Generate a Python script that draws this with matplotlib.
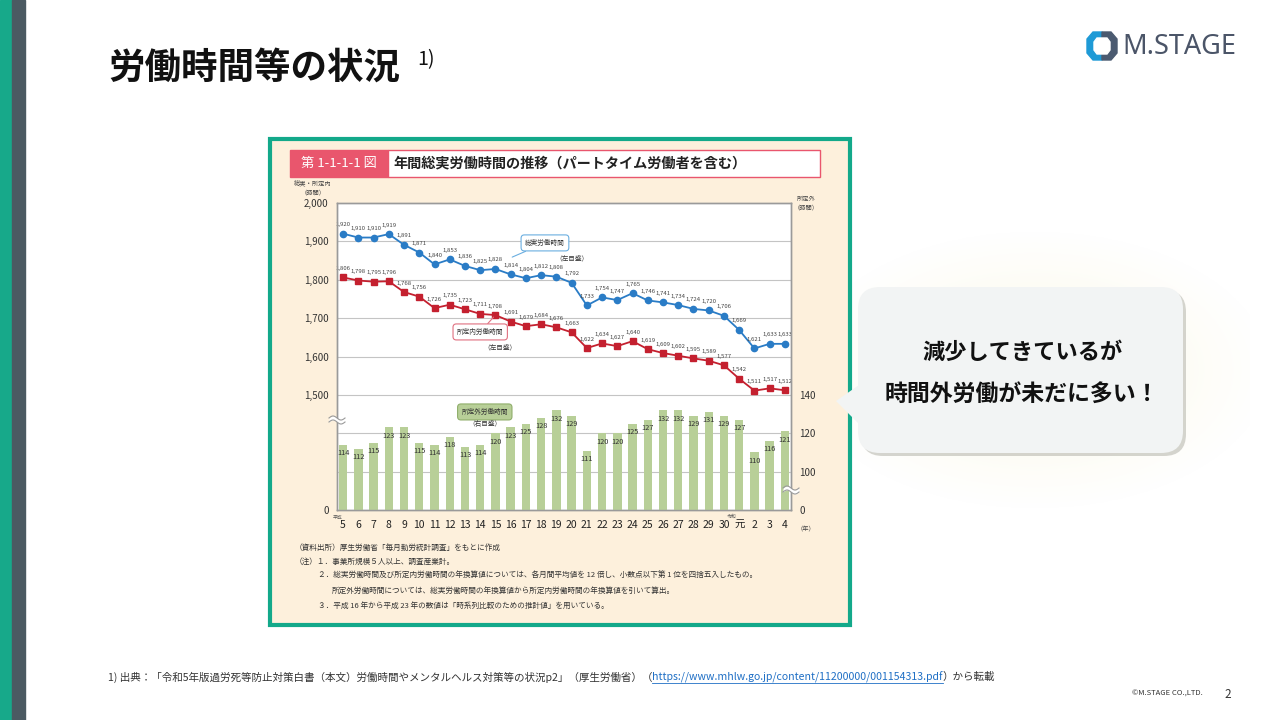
import numpy as np
import matplotlib
matplotlib.use('Agg')
import matplotlib.pyplot as plt
from matplotlib.patches import Rectangle, FancyBboxPatch, Polygon

plt.rcParams['font.family'] = ['Noto Sans CJK JP', 'DejaVu Sans']

# ---- data ----
years = ['5', '6', '7', '8', '9', '10', '11', '12', '13', '14', '15', '16', '17',
         '18', '19', '20', '21', '22', '23', '24', '25', '26', '27', '28', '29',
         '30', '元', '2', '3', '4']
total_hours = [1920, 1910, 1910, 1919, 1891, 1871, 1840, 1853, 1836, 1825, 1828,
               1814, 1804, 1812, 1808, 1792, 1733, 1754, 1747, 1765, 1746, 1741,
               1734, 1724, 1720, 1706, 1669, 1621, 1633, 1633]
scheduled_hours = [1806, 1798, 1795, 1796, 1768, 1756, 1726, 1735, 1723, 1711, 1708,
                   1691, 1679, 1684, 1676, 1663, 1622, 1634, 1627, 1640, 1619, 1609,
                   1602, 1595, 1589, 1577, 1542, 1511, 1517, 1512]
overtime_hours = [114, 112, 115, 123, 123, 115, 114, 118, 113, 114, 120, 123, 125,
                  128, 132, 129, 111, 120, 120, 125, 127, 132, 132, 129, 131, 129,
                  127, 110, 116, 121]
left_ticks = [1200, 1500, 1600, 1700, 1800, 1900, 2000]
left_labels = ['0', '1,500', '1,600', '1,700', '1,800', '1,900', '2,000']
right_ticks = [80, 100, 120, 140]
right_labels = ['0', '100', '120', '140']

BLUE = '#2a7cc6'
RED = '#c4202f'
BAR = '#b8cf98'
GRID = '#c4c4c4'

fig = plt.figure(figsize=(12.8, 7.2), dpi=100)

# background layer in pixel coordinates
bg = fig.add_axes([0, 0, 1, 1], zorder=0)
bg.set_xlim(0, 1280)
bg.set_ylim(720, 0)
bg.axis('off')

bg.add_patch(Rectangle((0, 0), 12, 720, color='#17a98a'))
bg.add_patch(Rectangle((12, 0), 13, 720, color='#4b5a62'))

bg.text(108, 68, '労働時間等の状況', fontsize=26.3, fontweight='bold', va='center', color='#111')
bg.text(417, 60, '1)', fontsize=14, va='center', color='#111')

# logo
bg.add_patch(Polygon([(1102, 32), (1093, 32), (1087, 39), (1087, 53), (1093, 60), (1102, 60)],
                     closed=True, color='#1e9ad6'))
bg.add_patch(Polygon([(1102, 32), (1111, 32), (1117, 39), (1117, 53), (1111, 60), (1102, 60)],
                     closed=True, color='#4b5a70'))
bg.add_patch(Polygon([(1097, 38), (1107, 38), (1110, 42), (1110, 50), (1107, 54), (1097, 54),
                      (1094, 50), (1094, 42)], closed=True, color='white'))
bg.text(1122, 46.5, 'M.STAGE', fontsize=19.5, fontweight='bold', color='#4b5568',
        va='center', family=['Noto Sans', 'DejaVu Sans'])

# chart picture frame
bg.add_patch(Rectangle((270, 139), 580, 486, facecolor='#fdf0dc', edgecolor='#13a98a', lw=3))
bg.add_patch(Rectangle((290, 150), 98, 27, facecolor='#e9566d', edgecolor='#e9566d', lw=1))
bg.add_patch(Rectangle((388, 150), 432, 27, facecolor='white', edgecolor='#e9566d', lw=1))
bg.text(339, 163.5, '第 1-1-1-1 図', color='white', fontsize=9.5, ha='center', va='center')
bg.text(393, 163.5, '年間総実労働時間の推移（パートタイム労働者を含む）', fontsize=10.2,
        fontweight='bold', va='center', color='#222')

bg.text(313, 188, '総実・所定内\n（時間）', fontsize=4.5, ha='center', va='center',
        color='#444', linespacing=1.2)
bg.text(806, 203, '所定外\n（時間）', fontsize=4.5, ha='center', va='center',
        color='#444', linespacing=1.2)
bg.text(338, 517, '平成', fontsize=3.5, ha='center', va='center', color='#555')
bg.text(732, 516, '令和', fontsize=3.5, ha='center', va='center', color='#555')
bg.text(806, 529, '（年）', fontsize=4.5, ha='center', va='center', color='#444')

notes = [
    (295, 548, '（資料出所）厚生労働省「毎月勤労統計調査」をもとに作成'),
    (295, 562, '（注）１．事業所規模５人以上、調査産業計。'),
    (318, 576, '２．総実労働時間及び所定内労働時間の年換算値については、各月間平均値を 12 倍し、小数点以下第 1 位を四捨五入したもの。'),
    (332, 591, '所定外労働時間については、総実労働時間の年換算値から所定内労働時間の年換算値を引いて算出。'),
    (318, 606, '３．平成 16 年から平成 23 年の数値は「時系列比較のための推計値」を用いている。'),
]
for nx, ny, nt in notes:
    bg.text(nx, ny, nt, fontsize=5.5, va='center', color='#333')

# glow behind the speech bubble
gy, gx = np.mgrid[-1:1:200j, -1:1:300j]
glow = np.clip(1.1 - np.sqrt(gx ** 2 + (gy * 1.1) ** 2), 0, 1)
rgba = np.zeros((200, 300, 4))
rgba[..., 0] = 0.98
rgba[..., 1] = 0.96
rgba[..., 2] = 0.84
rgba[..., 3] = glow * 0.55
bg.imshow(rgba, extent=[820, 1250, 510, 230], aspect='auto', zorder=0.5)
bg.set_xlim(0, 1280)
bg.set_ylim(720, 0)

# footer
r = fig.canvas.get_renderer()
t1 = bg.text(108, 677, '1) 出典：「令和5年版過労死等防止対策白書（本文）労働時間やメンタルヘルス対策等の状況p2」（厚生労働省）（',
             fontsize=7.6, va='center', color='#333')
x1 = t1.get_window_extent(renderer=r).x1
t2 = bg.text(x1, 677, 'https://www.mhlw.go.jp/content/11200000/001154313.pdf', fontsize=7.6,
             va='center', color='#1f6fc5')
e2 = t2.get_window_extent(renderer=r)
bg.plot([e2.x0, e2.x1], [683, 683], color='#1f6fc5', lw=0.6)
bg.text(e2.x1, 677, '）から転載', fontsize=7.6, va='center', color='#333')
bg.text(1203, 694, '©M.STAGE CO.,LTD.', fontsize=5.5, va='center', ha='right', color='#333')
bg.text(1228, 694, '2', fontsize=8.5, va='center', ha='center', color='#333')

# ---- chart ----
ax = fig.add_axes([337 / 1280, 1 - 510 / 720, (791 - 337) / 1280, (510 - 203) / 720], zorder=2)
ax.set_facecolor('white')
x = np.arange(len(years))
ax.set_xlim(-0.4, len(years) - 0.6)
ax.set_ylim(1200, 2000)
ax2 = ax.twinx()
ax2.set_ylim(80, 240)

for v in [1500, 1600, 1700, 1800, 1900]:
    ax.axhline(v, color=GRID, lw=0.8, zorder=0)
for v in [100, 120]:
    ax2.axhline(v, color=GRID, lw=0.8, zorder=0)

ax2.bar(x, overtime_hours, width=0.55, color=BAR, zorder=2)
for i, v in enumerate(overtime_hours):
    ax2.annotate(str(v), (i, v), xytext=(0, -6), textcoords='offset points',
                 ha='center', va='center', fontsize=5.3, color='#333', zorder=3)

ax.plot(x, total_hours, color=BLUE, lw=1.3, marker='o', ms=4.5, zorder=3)
ax.plot(x, scheduled_hours, color=RED, lw=1.3, marker='s', ms=4.3, zorder=3)
for i, v in enumerate(total_hours):
    ax.annotate(f'{v:,}', (i, v), xytext=(0, 6.5), textcoords='offset points',
                ha='center', va='center', fontsize=4.3, color='#444')
for i, v in enumerate(scheduled_hours):
    ax.annotate(f'{v:,}', (i, v), xytext=(0, 6.5), textcoords='offset points',
                ha='center', va='center', fontsize=4.3, color='#444')

# series callouts
ax.annotate('総実労働時間', xy=(11.1, 1859), xytext=(13.25, 1896), fontsize=4.8, color='#333',
            ha='center', va='center',
            bbox=dict(boxstyle='round,pad=0.6,rounding_size=0.5', fc='white', ec='#6aaee0', lw=0.8),
            arrowprops=dict(arrowstyle='-', color='#6aaee0', lw=0.8, shrinkA=0, shrinkB=0))
ax.text(15.0, 1857, '（左目盛）', fontsize=4.8, ha='center', va='center', color='#333')
ax.annotate('所定内労働時間', xy=(10, scheduled_hours[10]), xytext=(9.0, 1664), fontsize=4.8,
            color='#333', ha='center', va='center',
            bbox=dict(boxstyle='round,pad=0.6,rounding_size=0.5', fc='white', ec='#e07080', lw=0.8),
            arrowprops=dict(arrowstyle='-', color='#e07080', lw=0.8, shrinkA=0, shrinkB=2))
ax.text(10.3, 1625, '（左目盛）', fontsize=4.8, ha='center', va='center', color='#333')
ax2.text(9.3, 131.1, '所定外労働時間', fontsize=4.8, ha='center', va='center', color='#333',
         bbox=dict(boxstyle='round,pad=0.6,rounding_size=0.5', fc=BAR, ec='#8fae6a', lw=0.8))
ax2.text(9.3, 124.8, '（右目盛）', fontsize=4.8, ha='center', va='center', color='#333')

ax.set_yticks(left_ticks)
ax.set_yticklabels(left_labels)
ax.tick_params(axis='y', length=0, labelsize=7, colors='#333', pad=6)
ax2.set_yticks(right_ticks)
ax2.set_yticklabels(right_labels)
ax2.tick_params(axis='y', length=0, labelsize=7, colors='#333', pad=6)
ax.set_xticks(x)
ax.set_xticklabels(years)
ax.tick_params(axis='x', length=0, labelsize=7.5, colors='#222', pad=7)
for a in (ax, ax2):
    for s in a.spines.values():
        s.set_color('#9a9a9a')
        s.set_linewidth(1)

# ---- foreground overlay: axis breaks and speech bubble ----
fg = fig.add_axes([0, 0, 1, 1], zorder=5)
fg.set_xlim(0, 1280)
fg.set_ylim(720, 0)
fg.axis('off')
fg.patch.set_visible(False)
wx = np.linspace(-8, 8, 40)
wy = 2 * np.sin(wx / 8 * np.pi)
for cx, cy in [(337, 420), (791, 490)]:
    fg.fill_between(cx + wx, cy + wy - 2, cy + wy + 2, color='white', lw=0)
    fg.plot(cx + wx, cy + wy - 2, color='#9a9a9a', lw=0.8)
    fg.plot(cx + wx, cy + wy + 2, color='#9a9a9a', lw=0.8)

fg.add_patch(FancyBboxPatch((861, 290), 325, 166, boxstyle='round,pad=0,rounding_size=22',
                            fc='#b9b9b0', ec='none', alpha=0.6))
fg.add_patch(FancyBboxPatch((858, 287), 325, 166, boxstyle='round,pad=0,rounding_size=22',
                            fc='#f2f4f4', ec='none'))
fg.add_patch(Polygon([(859, 385), (836, 401), (859, 424)], closed=True, fc='#f2f4f4', ec='none'))
fg.text(1022, 352, '減少してきているが', fontsize=16, fontweight='bold', ha='center', va='center',
        color='#111')
fg.text(1022, 394, '時間外労働が未だに多い！', fontsize=16.5, fontweight='bold', ha='center',
        va='center', color='#111')

fig.savefig('out.png', dpi=100, facecolor='white')
